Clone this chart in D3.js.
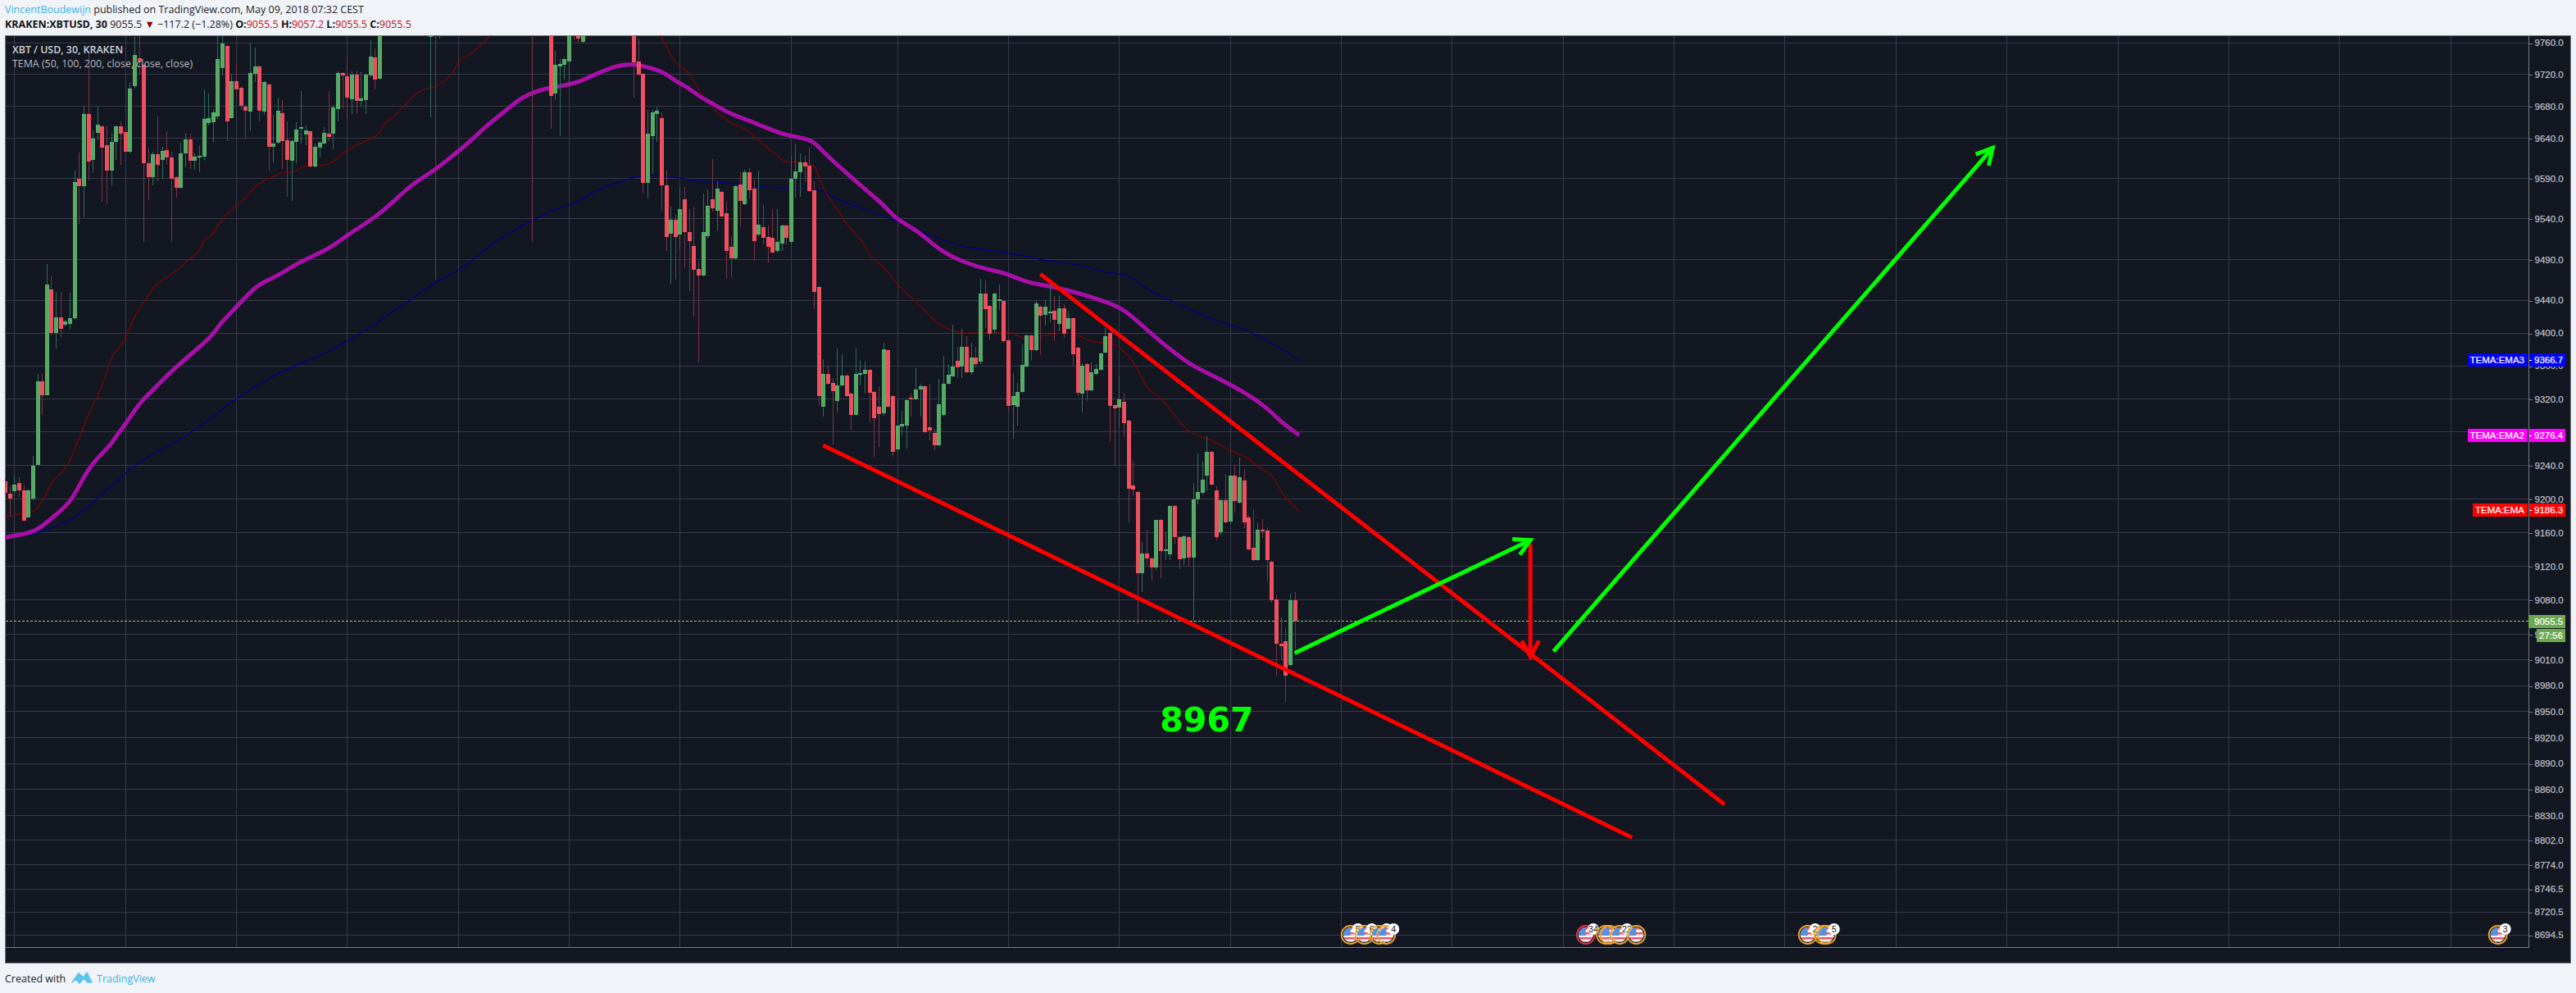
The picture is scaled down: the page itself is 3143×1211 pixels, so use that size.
<!DOCTYPE html>
<html><head><meta charset="utf-8">
<style>
html,body{margin:0;padding:0;background:#f0f3f8;overflow:hidden}
svg{display:block}
</style>
<script src="https://cdn.jsdelivr.net/npm/d3@7/dist/d3.min.js"></script>
</head><body>
<script>
// ---- values ----
const barIndex=[-2,-1,0,1,2,3,4,5,6,7,8,9,10,11,12,13,14,15,16,17,18,19,20,21,22,23,24,25,26,27,28,29,30,31,32,33,34,35,36,37,38,39,40,41,42,43,44,45,46,47,48,49,50,51,52,53,54,55,56,57,58,59,60,61,62,63,64,65,66,67,68,69,70,71,72,73,74,75,76,77,78,79,
90,91,92,112,116,117,118,119,120,121,122,123,
134,135,136,137,138,139,140,141,142,143,144,145,146,147,148,149,150,151,152,153,154,155,156,157,158,159,160,161,162,163,164,165,166,167,168,169,170,171,172,173,174,175,176,177,178,179,180,181,182,183,184,185,186,187,188,189,190,191,192,193,194,195,196,197,198,199,200,201,202,203,204,205,206,207,208,209,210,211,212,213,214,215,216,217,218,219,220,221,222,223,224,225,226,227,228,229,230,231,232,233,234,235,236,237,238,239,240,241,242,243,244,245,246,247,248,249,250,251,252,253,254,255,256,257,258,259,260,261,262,263,264,265,266,267,268,269,270,271,272,273,274,275,276,277,278];
const opens=[9221,9206,9209,9219,9210,9178,9200,9241,9341,9324,9453,9400,9419,9410,9411,9418,9590,9580,9670,9613,9647,9655,9632,9600,9636,9655,9648,9623,9706,9741,9732,9609,9592,9620,9613,9625,9616,9592,9578,9621,9639,9612,9616,9617,9659,9660,9667,9728,9756,9665,9712,9703,9680,9674,9721,9730,9674,9708,9630,9635,9672,9638,9612,9636,9652,9645,9649,9605,9628,9634,9646,9646,9677,9722,9718,9689,9720,9687,9688,9719,9742,9715,
9768,9800,9780,9810,9800,9696,9730,9732,9737,9790,9790,9761,
9790,9736,9721,9585,9643,9670,9665,9582,9522,9539,9521,9564,9524,9506,9478,9470,9519,9564,9550,9573,9547,9505,9491,9583,9558,9598,9577,9521,9530,9518,9517,9500,9510,9532,9512,9590,9598,9610,9606,9575,9456,9311,9350,9339,9317,9336,9348,9326,9301,9349,9350,9355,9328,9311,9303,9379,9323,9259,9287,9288,9321,9319,9331,9335,9286,9279,9264,9301,9338,9347,9366,9359,9383,9352,9370,9365,9448,9433,9404,9439,9439,9391,9313,9311,9328,9359,9397,9379,9432,9422,9424,9427,9411,9430,9405,9418,9382,9326,9362,9330,9350,9355,9376,9400,9313,9310,9316,9294,9216,9208,9112,9135,9129,9119,9175,9138,9134,9192,9155,9129,9155,9130,9199,9207,9228,9256,9210,9160,9198,9173,9228,9196,9222,9178,9142,9127,9163,9162,9125,9081,9029,9032,9004,9080,9055.5];
const highs=[9225,9215,9227,9226,9216,9211,9251,9350,9350,9484,9470,9450,9450,9416,9449,9600,9622,9680,9750,9650,9680,9656,9655,9647,9656,9661,9649,9710,9768,9769,9733,9628,9623,9667,9629,9649,9623,9593,9635,9646,9646,9621,9631,9701,9696,9677,9769,9769,9757,9721,9733,9704,9681,9760,9754,9731,9712,9709,9669,9691,9688,9661,9639,9660,9699,9656,9650,9634,9637,9654,9699,9682,9724,9723,9743,9724,9725,9723,9721,9763,9753,9800,
9800,9810,9800,9820,9810,9750,9740,9741,9790,9800,9795,9790,
9800,9766,9722,9676,9676,9679,9673,9600,9555,9545,9579,9579,9552,9555,9487,9571,9576,9614,9587,9574,9561,9519,9582,9598,9601,9603,9589,9600,9557,9532,9552,9552,9533,9533,9618,9634,9621,9618,9628,9587,9457,9368,9360,9345,9381,9374,9350,9327,9381,9366,9365,9356,9329,9335,9388,9380,9324,9318,9306,9319,9326,9357,9338,9336,9338,9284,9344,9372,9362,9410,9383,9405,9396,9388,9383,9466,9464,9434,9449,9459,9440,9392,9350,9339,9386,9398,9398,9439,9433,9440,9460,9445,9446,9435,9427,9419,9383,9363,9363,9364,9362,9376,9406,9401,9314,9348,9327,9295,9245,9209,9149,9163,9130,9175,9176,9160,9192,9193,9157,9157,9156,9219,9254,9245,9275,9257,9215,9199,9230,9229,9241,9249,9236,9181,9188,9172,9176,9166,9126,9087,9060,9046,9088,9090,9057.2];
const lows=[9205,9179,9204,9202,9174,9178,9198,9241,9301,9324,9397,9381,9395,9408,9405,9416,9534,9542,9588,9597,9638,9561,9558,9582,9613,9607,9622,9621,9702,9721,9512,9563,9582,9587,9590,9607,9512,9566,9577,9604,9602,9601,9598,9612,9656,9635,9664,9719,9637,9664,9688,9676,9640,9650,9711,9661,9669,9600,9610,9634,9602,9567,9562,9609,9634,9632,9604,9604,9616,9633,9636,9626,9661,9678,9664,9671,9671,9680,9671,9717,9701,9714,
9666,9465,9766,9512,9652,9688,9643,9714,9705,9763,9760,9760,
9691,9719,9571,9565,9596,9636,9550,9500,9460,9465,9502,9479,9451,9420,9364,9469,9516,9549,9525,9542,9466,9467,9489,9531,9557,9565,9488,9519,9509,9486,9497,9498,9500,9509,9509,9566,9567,9586,9573,9429,9312,9299,9337,9265,9304,9335,9322,9282,9300,9336,9326,9292,9250,9262,9300,9310,9250,9255,9276,9260,9299,9318,9299,9279,9270,9258,9263,9299,9337,9346,9345,9345,9351,9349,9358,9362,9406,9391,9400,9428,9388,9306,9272,9288,9327,9358,9366,9378,9374,9409,9413,9390,9402,9394,9404,9359,9323,9304,9317,9329,9349,9354,9375,9269,9240,9286,9274,9172,9203,9052,9090,9121,9103,9115,9106,9127,9127,9147,9117,9122,9121,9055,9194,9205,9209,9216,9151,9157,9171,9170,9184,9195,9165,9139,9125,9126,9154,9102,9077,8992,9011,8960,9003,9022,9055.5];
const closes=[9207,9200,9217,9210,9174,9210,9240,9341,9324,9459,9400,9419,9405,9414,9418,9586,9581,9670,9611,9640,9657,9628,9600,9636,9655,9646,9623,9702,9745,9736,9609,9592,9620,9607,9624,9616,9590,9578,9621,9639,9612,9617,9618,9664,9665,9673,9740,9759,9661,9712,9701,9681,9675,9722,9730,9675,9711,9630,9634,9675,9637,9613,9637,9651,9654,9650,9605,9630,9635,9647,9642,9679,9722,9719,9691,9720,9687,9690,9720,9743,9714,9790,
9790,9790,9795,9800,9693,9732,9733,9740,9780,9785,9766,9780,
9735,9720,9585,9646,9673,9675,9582,9518,9539,9518,9552,9524,9513,9477,9470,9524,9556,9553,9577,9543,9500,9491,9581,9562,9598,9575,9513,9533,9517,9505,9498,9512,9532,9517,9590,9599,9610,9605,9574,9450,9323,9350,9338,9329,9336,9348,9323,9301,9350,9351,9355,9327,9297,9302,9380,9311,9256,9288,9290,9318,9319,9331,9335,9280,9282,9264,9314,9338,9349,9359,9358,9383,9352,9370,9362,9448,9429,9399,9448,9441,9390,9312,9323,9328,9361,9397,9379,9436,9421,9432,9426,9416,9430,9399,9418,9374,9327,9360,9330,9352,9356,9375,9396,9312,9309,9319,9291,9212,9211,9112,9135,9129,9119,9175,9138,9140,9192,9155,9128,9156,9130,9199,9208,9223,9256,9217,9155,9198,9172,9228,9197,9226,9172,9140,9127,9163,9161,9127,9080,9029,9026,8992,9080,9055.5,9055.5];

const redBars=[-2,1,4,6,8,12,14,16,19,21,24,25,27,28,30,33,35,38,40,41,43,45,47,50,52,54,56,58,60,63,67,69,71,73,75,79,80,82,85,87,92,95,96,99,103,122,140,143,146,149,152,155,159,162,165,167,171,173,175,178,181,183,186,188,191,196,200,206,211,215,219,222,228,230,233,238,240,242,245,248,254,256,259,262,264,267,269,272,275,278];
const redValues=[9178,9182,9185,9197,9218,9245,9272,9300,9336,9368,9393,9406,9430,9437,9454,9468,9476,9491,9501,9512,9522,9539,9551,9566,9579,9587,9592,9597,9598,9605,9607,9611,9621,9628,9634,9647,9657,9667,9685,9696,9708,9724,9735,9747,9769,9850,9767,9736,9721,9693,9673,9660,9648,9633,9619,9611,9610,9606,9579,9552,9527,9515,9490,9481,9460,9433,9411,9400,9400,9401,9393,9396,9400,9397,9390,9386,9378,9365,9335,9321,9282,9276,9270,9261,9256,9248,9239,9228,9202,9186.3];

const magentaBars=[-2,4,6,9,12,14,16,18,21,22,24,27,29,33,35,39,43,44,48,52,55,58,62,68,72,78,82,86,91,95,99,102,106,110,115,118,122,126,130,134,137,140,143,146,148,151,155,160,164,167,171,173,175,180,185,188,191,196,200,206,211,214,219,222,227,234,240,245,254,258,265,271,274,278];
const magentaValues=[9154,9160,9167,9181,9195,9215,9235,9249,9265,9275,9289,9314,9325,9348,9358,9378,9397,9408,9431,9456,9465,9473,9488,9502,9520,9541,9561,9583,9600,9619,9638,9655,9673,9693,9703,9705,9710,9721,9731,9734,9729,9725,9712,9703,9693,9684,9670,9660,9650,9644,9640,9636,9623,9597,9572,9558,9538,9524,9501,9485,9477,9474,9462,9459,9454,9442,9431,9403,9362,9352,9332,9310,9292,9276.4];

const blueBars=[-2,4,9,12,20,24,27,36,40,48,57,68,77,84,90,99,103,107,112,116,122,126,131,135,139,142,148,153,160,167,170,174,177,185,191,198,204,211,216,222,230,236,241,246,250,255,260,266,272,278];
const blueValues=[9155,9158,9168,9175,9210,9230,9243,9272,9286,9320,9350,9378,9407,9434,9457,9488,9507,9522,9538,9549,9562,9575,9586,9592,9594,9592,9587,9585,9581,9578,9579,9576,9567,9550,9537,9520,9508,9501,9497,9490,9483,9475,9469,9451,9440,9427,9415,9404,9388,9366.7];

const priceTicks=[9760,9720,9680,9640,9590,9540,9490,9440,9400,9360,9320,9280,9240,9200,9160,9120,9080,9040,9010,8980,8950,8920,8890,8860,8830,8802,8774,8746.5,8720.5,8694.5];
const timeTicks=[0,24,48,72,96,120,144,168,191,215,239,263,287,311,335,359,383,407,431,455,479,503,527];
const timeLabels=["12:00","4","12:00","5","12:00","6","12:00","7","12:00","8","12:00","9","12:00","10","12:00","11","12:00","12","12:00","13","12:00","14","12:00"];

const redLines=[[[222,9472],[370,8843]],[[175,9264],[350,8805]]];
const redArrow=[[328,9146],[328,9014]];
const greenArrows=[[[277,9018],[328,9151]],[[333,9020],[428,9628]]];
const noteText="8967", noteBar=258, notePrice=8937;

// event markers: bar position, badge count ("" = none), ring colour kind
const eventBars=[289.1,292.1,295.3,296.8,340,344.3,345.1,347.3,350.9,388,391.4,392.1,537.3];
const eventBadges=["5","6","2","4","34","","","22","","2","","5","3"];
const eventHigh=[0,0,0,0,1,0,0,0,0,0,0,0,0];

const priceLabels=[
 {name:"TEMA:EMA3",value:9366.7,color:"#0000ff"},
 {name:"TEMA:EMA2",value:9276.4,color:"#ff00ff"},
 {name:"TEMA:EMA",value:9186.3,color:"#ff0000"}];
const lastPrice=9055.5, countdown="27:56";

// ---- layout ----
const W=3143,H=1211;
const panel={l:6.5,t:43.5,r:3136.5,b:1174.5};
const axisX=3085.5, axisY=1155.5;
const UP="#5aa858", UPB="#52b07a", DOWN="#ef5060";
const FONT="'Liberation Sans',Arial,sans-serif", UI="'Open Sans',sans-serif";

const x=d3.scaleLinear().domain([0,527]).range([17.3,17.3+527*5.64]);
const y=d3.scaleLog().domain([9760,8694.5]).range([52.3,1140.3]);
const px=v=>Math.round(x(v));

const svg=d3.select("body").append("svg").attr("width",W).attr("height",H).attr("viewBox",[0,0,W,H]);
svg.append("rect").attr("width",W).attr("height",H).attr("fill","#f0f3f8");
const defs=svg.append("defs");
defs.append("clipPath").attr("id","plot").append("rect").attr("x",panel.l).attr("y",panel.t).attr("width",axisX-panel.l).attr("height",axisY-panel.t);
defs.append("clipPath").attr("id","tax").append("rect").attr("x",panel.l).attr("y",axisY).attr("width",axisX-panel.l).attr("height",panel.b-axisY);

// panel
svg.append("rect").attr("x",panel.l).attr("y",panel.t).attr("width",panel.r-panel.l).attr("height",panel.b-panel.t)
  .attr("fill","#131722").attr("stroke","#787b80").attr("stroke-width",1).attr("shape-rendering","crispEdges");

// grid
const grid=svg.append("g").attr("clip-path","url(#plot)").attr("shape-rendering","crispEdges");
grid.selectAll("line.h").data(priceTicks).join("line").attr("class","h")
  .attr("x1",panel.l).attr("x2",axisX).attr("y1",d=>Math.floor(y(d))+.5).attr("y2",d=>Math.floor(y(d))+.5).attr("stroke","#363a4a");
grid.selectAll("line.v").data(timeTicks).join("line").attr("class","v")
  .attr("y1",panel.t).attr("y2",axisY).attr("x1",d=>px(d)+.5).attr("x2",d=>px(d)+.5).attr("stroke","#363a4a");

// axes
const yAxis=d3.axisRight(y).tickValues(priceTicks).tickSize(4).tickPadding(3).tickFormat(d3.format(".1f"));
const yg=svg.append("g").attr("transform",`translate(${axisX},0)`).call(yAxis);
const xAxis=d3.axisBottom(x).tickValues(timeTicks).tickSize(4).tickPadding(2).tickFormat((d,i)=>timeLabels[i]);
const xg=svg.append("g").attr("transform",`translate(0,${axisY})`).attr("clip-path","url(#tax)").call(xAxis);
[yg,xg].forEach(g=>{
  g.selectAll("text").attr("font-family",FONT).attr("font-size",11.5).attr("fill","#bcbfc5").attr("stroke","#bcbfc5").attr("stroke-width",0.25);
  g.selectAll("line").attr("stroke","#787b80").attr("shape-rendering","crispEdges");
  g.select(".domain").remove();
});
yg.selectAll(".tick line").attr("transform",d=>`translate(0,${Math.floor(y(d))+.5-y(d)})`);
xg.selectAll(".tick line").attr("transform",d=>`translate(${px(d)+.5-x(d)},0)`);
svg.append("line").attr("x1",axisX).attr("x2",axisX).attr("y1",panel.t).attr("y2",axisY).attr("stroke","#787b80").attr("shape-rendering","crispEdges");
svg.append("line").attr("x1",panel.l).attr("x2",axisX).attr("y1",axisY).attr("y2",axisY).attr("stroke","#787b80").attr("shape-rendering","crispEdges");

const plot=svg.append("g").attr("clip-path","url(#plot)");

// TEMA lines
const ln=(xs,c)=>d3.line().x((d,i)=>x(xs[i])).y(d=>y(d)).curve(c);
plot.append("path").attr("d",ln(blueBars,d3.curveMonotoneX)(blueValues)).attr("fill","none").attr("stroke","#00008f").attr("stroke-width",1.2);
plot.append("path").attr("d",ln(redBars,d3.curveMonotoneX)(redValues)).attr("fill","none").attr("stroke","#8a0000").attr("stroke-width",1.1);
plot.append("path").attr("d",ln(magentaBars,d3.curveBasis)(magentaValues)).attr("fill","none").attr("stroke","#a80fa8").attr("stroke-width",5).attr("stroke-linejoin","round");

// last price dashed line (under candles)
plot.append("line").attr("x1",panel.l).attr("x2",axisX).attr("y1",Math.floor(y(lastPrice))+.5).attr("y2",Math.floor(y(lastPrice))+.5)
  .attr("stroke","#9ccf6e").attr("stroke-dasharray","3 2").attr("shape-rendering","crispEdges");

// candles
const candles=plot.append("g").attr("shape-rendering","crispEdges");
const bars=barIndex.map((b,i)=>({b,o:opens[i],h:highs[i],l:lows[i],c:closes[i]}));
const cg=candles.selectAll("g").data(bars).join("g");
cg.append("line").attr("x1",d=>px(d.b)+.5).attr("x2",d=>px(d.b)+.5)
  .attr("y1",d=>y(d.h)).attr("y2",d=>y(d.l))
  .attr("stroke",d=>d.c>=d.o?"#2c6e58":"#7e3346");
const bodyTop=d=>Math.round(y(Math.max(d.o,d.c))), bodyBot=d=>Math.round(y(Math.min(d.o,d.c)));
cg.append("rect").attr("x",d=>px(d.b)-1.5).attr("width",4)
  .attr("y",d=>bodyTop(d)+.5)
  .attr("height",d=>Math.max(0,bodyBot(d)-bodyTop(d)-1))
  .attr("fill",d=>d.c>=d.o?UP:DOWN)
  .attr("stroke",d=>d.c>=d.o?UPB:DOWN);

// drawings
function arrowHead(g,seg,color){
  const [a,b]=seg; const ax=x(a[0]),ay=y(a[1]),bx=x(b[0]),by=y(b[1]);
  const t=Math.atan2(by-ay,bx-ax), L=22, s=0.5;
  const p=[[bx-L*Math.cos(t-s),by-L*Math.sin(t-s)],[bx,by],[bx-L*Math.cos(t+s),by-L*Math.sin(t+s)]];
  g.append("path").attr("d",d3.line()(p)).attr("fill","none").attr("stroke",color).attr("stroke-width",5);
}
const dg=svg.append("g").attr("clip-path","url(#plot)");
const seg=(g,s,c)=>g.append("line").attr("x1",x(s[0][0])).attr("y1",y(s[0][1])).attr("x2",x(s[1][0])).attr("y2",y(s[1][1])).attr("stroke",c).attr("stroke-width",5);
redLines.forEach(s=>seg(dg,s,"#ff0000"));
seg(dg,redArrow,"#ff0000"); arrowHead(dg,redArrow,"#ff0000");
greenArrows.forEach(s=>{seg(dg,s,"#00ff00");arrowHead(dg,s,"#00ff00");});
dg.append("text").attr("x",x(noteBar)).attr("y",y(notePrice)).attr("text-anchor","middle").attr("dominant-baseline","middle")
  .attr("font-family","'DejaVu Sans',sans-serif").attr("font-weight","bold").attr("font-size",41).attr("fill","#00ff00").text(noteText);

// event flags
const evY=1140;
const ev=svg.append("g").attr("clip-path","url(#plot)");
eventBars.forEach((b,i)=>{
  const cx=x(b), id="fl"+i;
  const g=ev.append("g");
  defs.append("clipPath").attr("id",id).append("circle").attr("cx",cx).attr("cy",evY).attr("r",9);
  const f=g.append("g").attr("clip-path",`url(#${id})`);
  f.append("rect").attr("x",cx-10).attr("y",evY-10).attr("width",20).attr("height",20).attr("fill","#f6f6f6");
  [-9,-3,3,8].forEach(o=>f.append("rect").attr("x",cx-10).attr("y",evY+o).attr("width",20).attr("height",2.6).attr("fill","#f0566a"));
  f.append("rect").attr("x",cx-10).attr("y",evY-10).attr("width",10).attr("height",11).attr("fill","#5a8fdc");
  g.append("circle").attr("cx",cx).attr("cy",evY).attr("r",11).attr("fill","none").attr("stroke",eventHigh[i]?"#e8304f":"#f0a828").attr("stroke-width",1.8);
  if(eventBadges[i]){
    g.append("circle").attr("cx",cx+9).attr("cy",evY-7).attr("r",7).attr("fill","#fff");
    g.append("text").attr("x",cx+9).attr("y",evY-3).attr("text-anchor","middle").attr("font-family",FONT).attr("font-size",11).attr("fill","#222").text(eventBadges[i]);
  }
});

// price labels
const lab=svg.append("g").attr("shape-rendering","crispEdges");
priceLabels.forEach(p=>{
  const yy=Math.round(y(p.value));
  const wName=p.name.length===9?73:67;
  lab.append("rect").attr("x",3084-wName).attr("y",yy-8).attr("width",wName).attr("height",16).attr("fill",p.color);
  lab.append("rect").attr("x",3086).attr("y",yy-8).attr("width",44).attr("height",16).attr("fill",p.color);
  lab.append("line").attr("x1",3086).attr("x2",3089).attr("y1",yy+.5).attr("y2",yy+.5).attr("stroke","#fff");
  lab.append("text").attr("x",3080).attr("y",yy+4).attr("text-anchor","end").attr("font-family",FONT).attr("font-size",11.5).attr("fill","#fff").attr("stroke","#fff").attr("stroke-width",0.2).text(p.name);
  lab.append("text").attr("x",3092).attr("y",yy+4).attr("font-family",FONT).attr("font-size",11.5).attr("fill","#fff").attr("stroke","#fff").attr("stroke-width",0.2).text(d3.format(".1f")(p.value));
});
const ly=Math.round(y(lastPrice));
lab.append("rect").attr("x",3085).attr("y",ly-7).attr("width",45).attr("height",16).attr("fill","#6ba84f");
lab.append("text").attr("x",3092).attr("y",ly+5).attr("font-family",FONT).attr("font-size",11.5).attr("fill","#fff").attr("stroke","#fff").attr("stroke-width",0.2).text(d3.format(".1f")(lastPrice));
lab.append("rect").attr("x",3095).attr("y",ly+10).attr("width",35).attr("height",16).attr("fill","#6ba84f");
lab.append("text").attr("x",3098).attr("y",ly+22).attr("font-family",FONT).attr("font-size",11.5).attr("fill","#fff").attr("stroke","#fff").attr("stroke-width",0.2).text(countdown);

// legend inside the chart
svg.append("text").attr("x",15).attr("y",65).attr("font-family",UI).attr("font-weight",600).attr("font-size",12.4).attr("fill","#cfd2d6").text("XBT / USD, 30, KRAKEN");
svg.append("text").attr("x",15).attr("y",82).attr("font-family",UI).attr("font-size",12.4).attr("fill","#b8bbc0").text("TEMA (50, 100, 200, close, close, close)");

// header
const h1=svg.append("text").attr("x",6).attr("y",16).attr("font-family",UI).attr("font-size",12.5).attr("fill","#222");
h1.append("tspan").attr("fill","#3bb3e4").text("VincentBoudewijn");
h1.append("tspan").text(" published on TradingView.com, May 09, 2018 07:32 CEST");
const h2=svg.append("text").attr("x",6).attr("y",34).attr("font-family",UI).attr("font-size",12.5).attr("fill","#111");
h2.append("tspan").attr("font-weight",700).text("KRAKEN:XBTUSD, 30 ");
h2.append("tspan").attr("fill","#222").text(" 9055.5 ");
h2.append("tspan").attr("fill","#8b0000").text("▼");
h2.append("tspan").attr("fill","#222").text(" −117.2 (−1.28%) ");
[["O:","9055.5"],["H:","9057.2"],["L:","9055.5"],["C:","9055.5"]].forEach(([k,v])=>{
  h2.append("tspan").attr("font-weight",700).text(k);
  h2.append("tspan").attr("fill","#c0101a").text(v+" ");
});

// footer
svg.append("text").attr("x",6).attr("y",1198).attr("font-family",UI).attr("font-size",12.5).attr("fill","#222").text("Created with");
svg.append("path").attr("d","M88 1198 L96 1187 L102 1192 L106 1186 L112 1198 L107 1198 L102 1193 L97 1199 L92 1194 Z").attr("fill","#5cc3ef").attr("stroke","#5cc3ef").attr("stroke-width",1.5).attr("stroke-linejoin","round");
svg.append("text").attr("x",118).attr("y",1198).attr("font-family",UI).attr("font-size",12.5).attr("fill","#3bb3e4").text("TradingView");
</script>
</body></html>
